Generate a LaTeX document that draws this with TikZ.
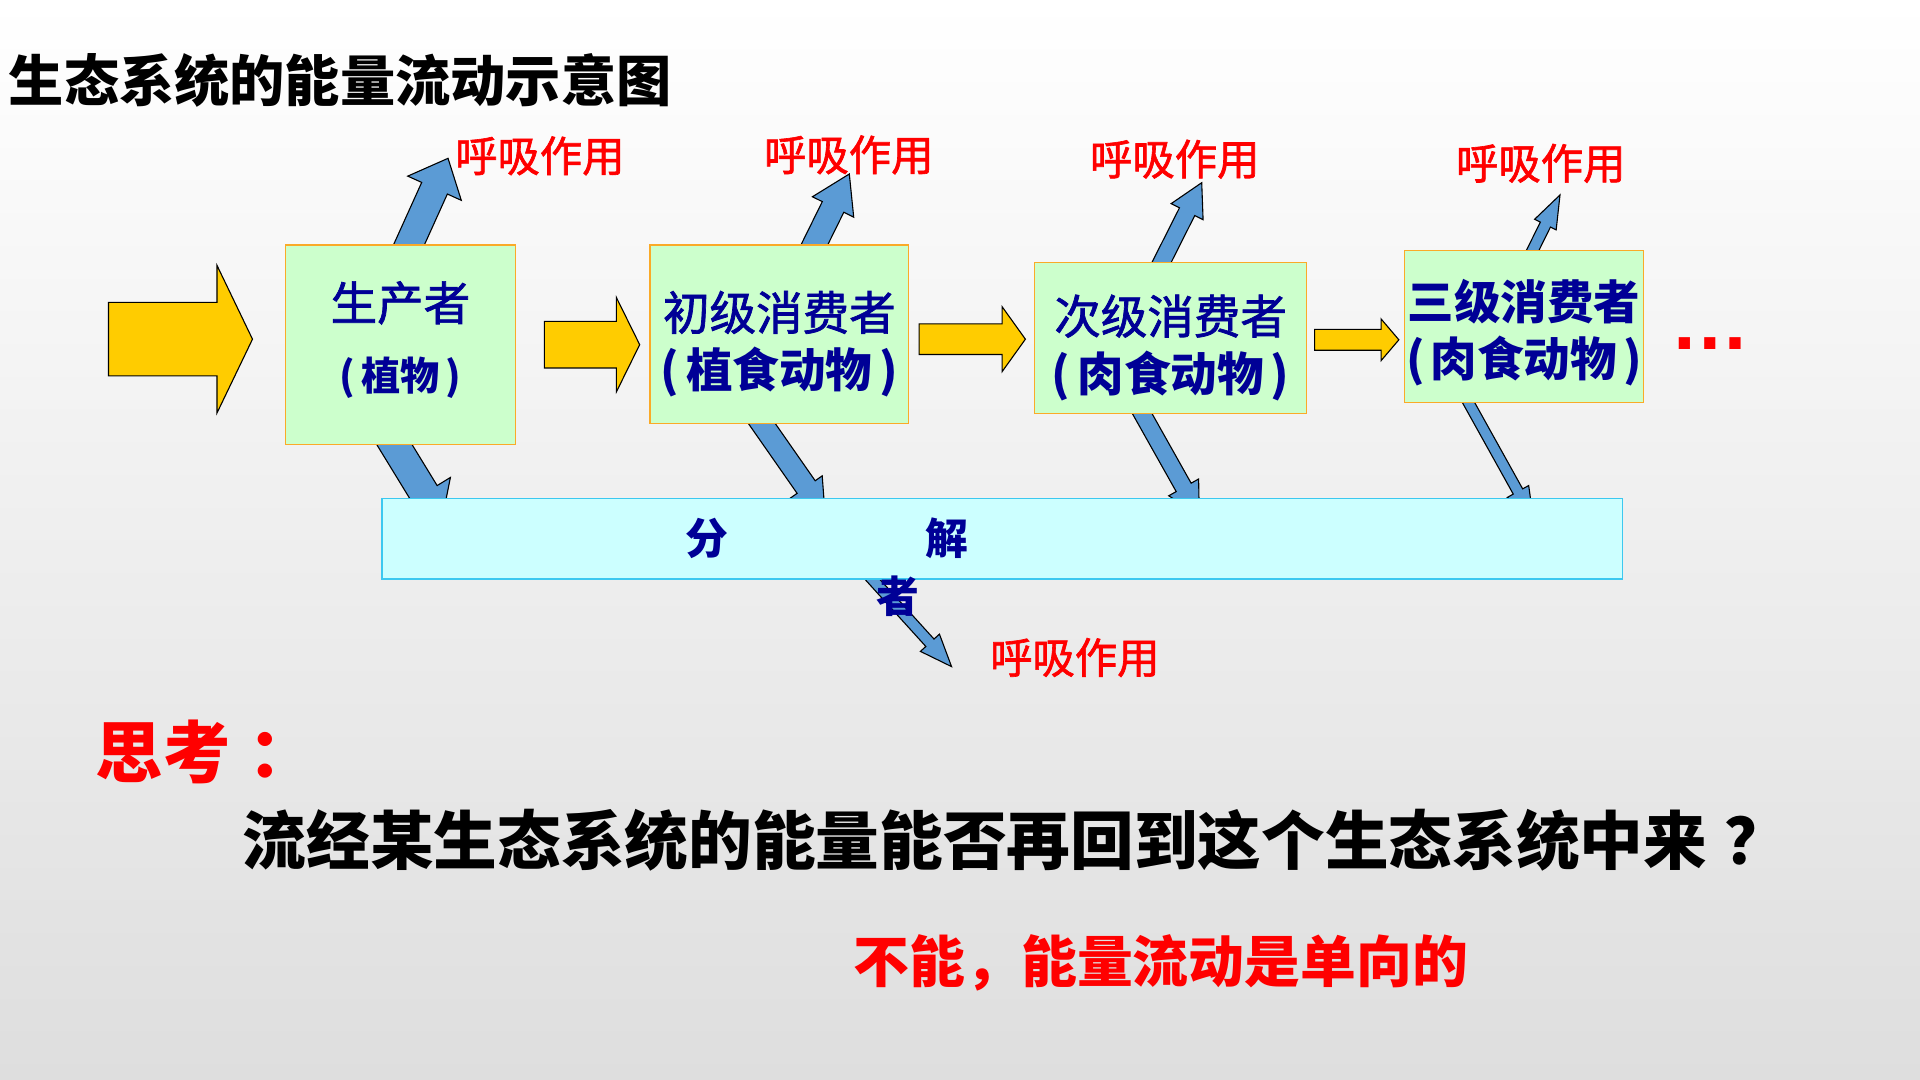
\documentclass[tikz,border=0pt]{standalone}
\usepackage{fontspec}
\setmainfont{Noto Sans CJK SC}
\newfontfamily\medfont[FakeBold=1.5]{Noto Sans CJK SC}
\newfontfamily\dotsfont{Liberation Sans}
\usetikzlibrary{calc}

\definecolor{boxgreen}{RGB}{204,255,204}
\definecolor{boxorange}{RGB}{250,170,40}
\definecolor{decompcyan}{RGB}{204,255,255}
\definecolor{decompline}{RGB}{60,200,240}
\definecolor{sunyellow}{RGB}{255,204,0}
\definecolor{respblue}{RGB}{91,155,213}
\definecolor{textnavy}{RGB}{0,0,150}
\definecolor{bggray}{RGB}{222,222,222}

\pgfdeclarelayer{bg}
\pgfdeclarelayer{under}
\pgfsetlayers{bg,under,main}

% tail, tip, half shaft, half head, head length
\newcommand\blockarrow[6][]{%
  \coordinate (ba-base) at ($(#3)!#6!(#2)$);
  \draw[#1] ($(#2)!#4!90:(#3)$) -- ($(ba-base)!#4!90:(#3)$)
    -- ($(ba-base)!#5!90:(#3)$) -- (#3) -- ($(ba-base)!#5!-90:(#3)$)
    -- ($(ba-base)!#4!-90:(#3)$) -- ($(#2)!#4!-90:(#3)$) -- cycle;}
\newcommand\heavytext{\rmfamily\bfseries}

\begin{document}
\begin{tikzpicture}[x=1pt,y=-1pt,
  trophic box/.style={rectangle,draw=boxorange,fill=boxgreen,line width=1.2pt,inner sep=0pt},
  box text/.style={text=textnavy,align=center,inner sep=0pt,font=\medfont\fontsize{38}{47}\selectfont},
  decomp box/.style={rectangle,draw=decompline,fill=decompcyan,line width=1.2pt},
  resp label/.style={text=red,inner sep=0pt,font=\medfont\fontsize{34.6}{40}\selectfont},
  energy flow/.style={draw=black,fill=sunyellow,line width=0.9pt},
  resp flow/.style={draw=black,fill=respblue,line width=0.9pt}]
  \useasboundingbox (0,0) rectangle (1568,882);
  \begin{pgfonlayer}{bg}
    \shade[top color=white,bottom color=bggray] (0,0) rectangle (1568,882);
  \end{pgfonlayer}

  \node[anchor=west,inner sep=0pt,font=\bfseries\fontsize{45.1}{50}\selectfont] (title) at (7,66) {生态系统的能量流动示意图};

  \node[trophic box,minimum width=188pt,minimum height=163pt,
    label={[box text,name=prodtext,yshift=4pt,font=\medfont\fontsize{38}{57}\selectfont]center:生产者\\{\heavytext\fontsize{32}{57}\selectfont(\hspace{5pt}植物\hspace{5pt})}}]
    (prod) at (327,281.5) {};
  \node[trophic box,minimum width=211pt,minimum height=146pt,
    label={[box text,name=cons1text,yshift=-8pt]center:初级消费者\\{\heavytext(\hspace{6pt}植食动物\hspace{6pt})}}]
    (cons1) at (636.5,273) {};
  \node[trophic box,minimum width=222pt,minimum height=123pt,
    label={[box text,name=cons2text,yshift=-8pt]center:次级消费者\\{\heavytext(\hspace{6pt}肉食动物\hspace{6pt})}}]
    (cons2) at (956,276) {};
  \node[trophic box,minimum width=195pt,minimum height=124pt,
    label={[box text,name=cons3text,yshift=-5pt,font=\heavytext\fontsize{38}{47}\selectfont]center:三级消费者\\(\hspace{5pt}肉食动物\hspace{5pt})}]
    (cons3) at (1244.5,266.6) {};
  \node[text=red,anchor=base,inner sep=0pt,font=\dotsfont\bfseries\fontsize{65}{65}\selectfont] (more) at (1396.5,285.5) {…};

  \node[decomp box,minimum width=1013pt,minimum height=66pt] (decomp) at (818.5,440) {};
  \node[anchor=base west,text=textnavy,align=left,inner sep=0pt,font=\bfseries\fontsize{35}{47.5}\selectfont] (decompname)
    at (560,500.3) {分\hspace{160.5pt}解\\\hspace*{156pt}者};

  \node[resp label] (resp1) at (440.9,127.3) {呼吸作用};
  \node[resp label] (resp2) at (693.2,126.5) {呼吸作用};
  \node[resp label] (resp3) at (959.4,130) {呼吸作用};
  \node[resp label] (resp4) at (1258.3,133.4) {呼吸作用};
  \node[resp label] (resp5) at (877.8,537) {呼吸作用};

  \node[anchor=west,inner sep=0pt,text=red,font=\bfseries\fontsize{55}{60}\selectfont] (think) at (78,614) {思考\hspace{15pt}：};
  \node[anchor=west,inner sep=0pt,font=\bfseries\fontsize{52}{56}\selectfont] (question) at (198,686)
    {流经某生态系统的能量能否再回到这个生态系统中来\hspace{14pt}？};
  \node[inner sep=0pt,text=red,font=\bfseries\fontsize{45.6}{50}\selectfont] (answer) at (948,786) {不能，能量流动是单向的};

  \coordinate (sun) at (88.6,277);
  \coordinate (a1e) at ([xshift=-26.2pt,yshift=4.5pt]prod.west);
  \coordinate (a2s) at ([xshift=23pt]prod.east);
  \coordinate (a2e) at ([xshift=-8pt,yshift=-8.5pt]cons1.west);
  \coordinate (a3s) at ([xshift=8pt,yshift=-4pt]cons1.east);
  \coordinate (a3e) at ([xshift=-7pt,yshift=-1pt]cons2.west);
  \coordinate (a4s) at ([xshift=6pt,yshift=-1.5pt]cons2.east);
  \coordinate (a4e) at ([xshift=-4pt,yshift=-10.9pt]cons3.west);
  \blockarrow[energy flow]{sun}{a1e}{30pt}{60.3pt}{29pt}
  \blockarrow[energy flow]{a2s}{a2e}{19pt}{38.5pt}{19pt}
  \blockarrow[energy flow]{a3s}{a3e}{12.5pt}{26.5pt}{19pt}
  \blockarrow[energy flow]{a4s}{a4e}{8.5pt}{17pt}{14.5pt}

  \begin{pgfonlayer}{under}
    \coordinate (r1s) at ([xshift=-4.8pt,yshift=-26.6pt]prod.north);
    \coordinate (r1e) at ([xshift=-5.6pt,yshift=-2pt]resp1.west);
    \coordinate (r2s) at ([xshift=15.9pt,yshift=-26.2pt]cons1.north);
    \coordinate (r2e) at ([xshift=0.4pt,yshift=-15.6pt]resp2.center);
    \coordinate (r3s) at ([xshift=-20.3pt,yshift=-26pt]cons2.north);
    \coordinate (r3e) at ([xshift=22pt,yshift=-19.2pt]resp3.center);
    \coordinate (r4s) at ([xshift=-3.5pt,yshift=-22.1pt]cons3.north);
    \coordinate (r4e) at ([xshift=15.7pt,yshift=-25.8pt]resp4.center);
    \blockarrow[resp flow]{r1s}{r1e}{11.5pt}{24pt}{26.8pt}
    \blockarrow[resp flow]{r2s}{r2e}{9.8pt}{18.8pt}{30pt}
    \blockarrow[resp flow]{r3s}{r3e}{7pt}{14.6pt}{26.5pt}
    \blockarrow[resp flow]{r4s}{r4e}{4.6pt}{9.8pt}{27pt}

    \coordinate (d1s) at ([xshift=-20pt,yshift=25.2pt]prod.south);
    \coordinate (d1e) at ([xshift=49.2pt,yshift=-19.6pt]decomp.north west);
    \coordinate (d2s) at ([xshift=-30.6pt,yshift=24pt]cons1.south);
    \coordinate (d2e) at ([xshift=362.4pt,yshift=-13.5pt]decomp.north west);
    \coordinate (d3s) at ([xshift=-37.7pt,yshift=26.1pt]cons2.south);
    \coordinate (d3e) at ([xshift=668pt,yshift=-14.3pt]decomp.north west);
    \coordinate (d4s) at ([xshift=-57.1pt,yshift=21.8pt]cons3.south);
    \coordinate (d4e) at ([xshift=940.9pt,yshift=-17.7pt]decomp.north west);
    \coordinate (d5s) at ([xshift=-126.2pt,yshift=-10.9pt]decomp.center);
    \coordinate (d5e) at ([xshift=-31.3pt,yshift=-7.4pt]resp5.west);
    \blockarrow[resp flow]{d1s}{d1e}{12.3pt}{25pt}{27pt}
    \blockarrow[resp flow]{d2s}{d2e}{9pt}{16pt}{27pt}
    \blockarrow[resp flow]{d3s}{d3e}{7pt}{14pt}{26pt}
    \blockarrow[resp flow]{d4s}{d4e}{4.4pt}{10pt}{26pt}
    \blockarrow[resp flow]{d5s}{d5e}{4.5pt}{10.5pt}{26.3pt}
  \end{pgfonlayer}
\end{tikzpicture}
\end{document}
